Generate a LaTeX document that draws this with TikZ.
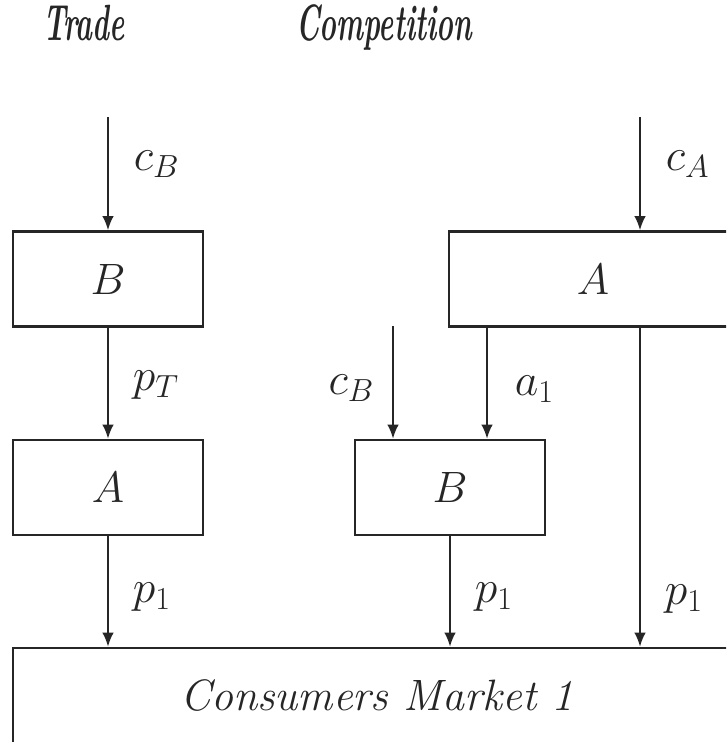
\RequirePackage{fix-cm}
\documentclass[tikz,border=0pt]{standalone}
\usepackage{graphicx}
\usetikzlibrary{arrows.meta,positioning}
\tikzset{>={Latex[length=8pt,width=6.5pt]}}
\definecolor{ink}{HTML}{262626}
\newcommand{\headline}[1]{\scalebox{0.56}[1]{\fontsize{29}{34}\selectfont\bfseries\itshape #1}}

\begin{document}
\begin{tikzpicture}[x=0.02cm,y=-0.02cm,
  box/.style={draw=ink,line width=1.4pt,inner sep=0pt,text=ink,
    minimum width=3.8cm,minimum height=1.9cm,
    font=\fontsize{25}{30}\selectfont\itshape},
  flow/.style={->,draw=ink,line width=1.1pt},
  lbl/.style={text=ink,inner sep=0pt,font=\fontsize{26}{30}\selectfont}]
  \useasboundingbox (0,0) rectangle (726,742);
  \clip (0,0) rectangle (726,742);

  % headings
  \node[text=ink,anchor=base] (trade) at (84,41) {\headline{Trade}};
  \node[text=ink,anchor=base] (comp) at (384,41) {\headline{Competition}};

  % boxes
  \node[box] (tB) at (108,279) {$B$};
  \node[box] (tA) at (108,487.5) {$A$};
  \node[box,minimum width=5.76cm] (cA) at (593,279) {$A$};
  \node[box] (cB) at (450,487.5) {$B$};
  \node[box,minimum width=14.56cm] (mkt) at (377,695.5) {Consumers Market 1};

  % free ends
  \coordinate (tin) at (108,117);
  \coordinate (ain) at (640,117);
  \coordinate (bin) at (393,326);

  % trade
  \draw[flow] (tin) -- (tB.north) node[lbl,pos=0.42,right=0.5cm] {$c_B$};
  \draw[flow] (tB.south) -- (tA.north) node[lbl,pos=0.52,right=0.48cm] {$p_T$};
  \draw[flow] (tA.south) -- (tA.south |- mkt.north) node[lbl,pos=0.55,right=0.48cm] {$p_1$};

  % competition
  \draw[flow] (ain) -- (ain |- cA.north) node[lbl,pos=0.42,right=0.5cm] {$c_A$};
  \draw[flow] (bin) -- (bin |- cB.north) node[lbl,pos=0.55,left=0.36cm] {$c_B$};
  \draw[flow] (cA.south -| 487,0) -- (cB.north -| 487,0) node[lbl,pos=0.55,right=0.54cm] {$a_1$};
  \draw[flow] (cB.south) -- (cB.south |- mkt.north) node[lbl,pos=0.55,right=0.48cm] {$p_1$};
  \draw[flow] (ain |- cA.south) -- (ain |- mkt.north) node[lbl,pos=0.85,right=0.48cm] {$p_1$};
\end{tikzpicture}
\end{document}
